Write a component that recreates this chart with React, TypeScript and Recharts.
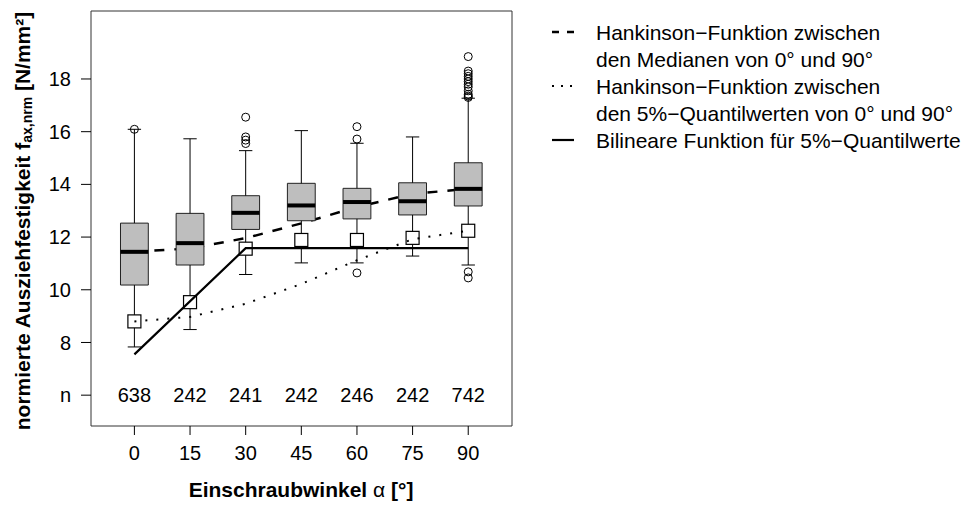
import React from 'react';
import { ComposedChart, XAxis, YAxis, Line, Scatter, ReferenceArea, ReferenceLine } from 'recharts';

// ---- data ----
const angles = [0, 15, 30, 45, 60, 75, 90];
const counts = [638, 242, 241, 242, 246, 242, 742];
const q1 = [10.18, 10.94, 12.29, 12.62, 12.69, 12.84, 13.18];
const medians = [11.44, 11.77, 12.92, 13.2, 13.33, 13.36, 13.83];
const q3 = [12.53, 12.9, 13.57, 14.04, 13.85, 14.06, 14.82];
const whiskerLow = [7.83, 8.49, 10.58, 11.02, 11.02, 11.28, 10.94];
const whiskerHigh = [16.09, 15.73, 15.28, 16.04, 15.56, 15.8, 17.27];
const quantile5 = [8.8, 9.53, 11.56, 11.89, 11.89, 11.97, 12.24];

const outlierAngles = [0, 30, 30, 30, 30, 60, 60, 60, 90, 90, 90, 90, 90, 90, 90, 90, 90, 90, 90, 90, 90, 90];
const outlierValues = [16.09, 16.55, 15.8, 15.68, 15.55, 16.19, 15.72, 10.64, 18.85, 18.3, 18.2, 18.1, 18.0, 17.9, 17.8, 17.7, 17.55, 17.42, 17.35, 17.3, 10.68, 10.45];

const hankMedianValues = [11.44, 11.57, 11.96, 12.52, 13.14, 13.64, 13.83];
const hank5Values = [8.8, 8.97, 9.47, 10.22, 11.12, 11.92, 12.24];
const bilinAngles = [0, 30, 90];
const bilinValues = [7.55, 11.58, 11.58];

const xTicks = [0, 15, 30, 45, 60, 75, 90];
const yTicks = [6, 8, 10, 12, 14, 16, 18];
const nRowValue = 6;

const legendLabels = [
  ['Hankinson\u2212Funktion zwischen', 'den Medianen von 0\u00b0 und 90\u00b0'],
  ['Hankinson\u2212Funktion zwischen', 'den 5%\u2212Quantilwerten von 0\u00b0 und 90\u00b0'],
  ['Bilineare Funktion f\u00fcr 5%\u2212Quantilwerte'],
];

// ---- derived tables ----
const hankMedianData = angles.map((a, i) => ({ x: a, y: hankMedianValues[i] }));
const hank5Data = angles.map((a, i) => ({ x: a, y: hank5Values[i] }));
const bilinData = bilinAngles.map((a, i) => ({ x: a, y: bilinValues[i] }));
const outlierData = outlierAngles.map((a, i) => ({ x: a, y: outlierValues[i] }));
const quantileData = angles.map((a, i) => ({ x: a, y: quantile5[i] }));
const nData = angles.map((a, i) => ({ x: a, y: nRowValue, n: counts[i] }));

const FONT = '"Liberation Sans", Arial, Helvetica, sans-serif';
const BOX_HALF = 3.75;
const CAP_HALF = 1.8;
const X_DOMAIN: [number, number] = [-11.7, 101.8];
const Y_DOMAIN: [number, number] = [4.83, 20.58];

const Circle = (p: any) => (
  <circle cx={p.cx} cy={p.cy} r={4} fill="none" stroke="#000" strokeWidth={1} />
);
const Square = (p: any) => (
  <rect x={p.cx - 6.5} y={p.cy - 6.5} width={13} height={13} fill="#fff" stroke="#000" strokeWidth={1.2} />
);
const NText = (p: any) => (
  <text x={p.cx} y={p.cy} textAnchor="middle" dominantBaseline="central" fontSize={20} fontFamily={FONT} fill="#000">
    {p.payload.n}
  </text>
);

const legendRowsY = [32, 59, 86, 113, 140];

export default function App() {
  const flat = legendLabels.flat();
  return (
    <div style={{ position: 'absolute', left: 0, top: 0, width: 968, height: 507, background: '#fff' }}>
      <ComposedChart width={968} height={507} margin={{ top: 11, right: 456, bottom: 0, left: 0 }}>
        <XAxis
          type="number"
          dataKey="x"
          domain={X_DOMAIN}
          allowDataOverflow
          ticks={xTicks}
          interval={0}
          height={81}
          axisLine={false}
          tickLine={{ stroke: '#000', strokeWidth: 1 }}
          tickSize={9}
          tickMargin={11}
          tick={{ fill: '#000', fontSize: 20, fontFamily: FONT }}
        />
        <YAxis
          type="number"
          dataKey="y"
          domain={Y_DOMAIN}
          allowDataOverflow
          ticks={yTicks}
          interval={0}
          width={91}
          axisLine={false}
          tickLine={{ stroke: '#000', strokeWidth: 1 }}
          tickSize={10}
          tickMargin={10}
          tickFormatter={(v: number) => (v === nRowValue ? 'n' : String(v))}
          tick={{ fill: '#000', fontSize: 20, fontFamily: FONT }}
        />
        <Line
          data={hankMedianData}
          dataKey="y"
          type="linear"
          stroke="#000"
          strokeWidth={2.5}
          strokeDasharray="10 10"
          dot={false}
          activeDot={false}
          isAnimationActive={false}
          zIndex={50}
        />
        {angles.map((a, i) => (
          <ReferenceArea
            key={'box' + i}
            x1={a - BOX_HALF}
            x2={a + BOX_HALF}
            y1={q1[i]}
            y2={q3[i]}
            fill="#bebebe"
            fillOpacity={1}
            stroke="#222"
            strokeWidth={1}
            ifOverflow="visible"
            zIndex={100}
          />
        ))}
        {angles.map((a, i) => (
          <ReferenceLine key={'wu' + i} segment={[{ x: a, y: q3[i] }, { x: a, y: whiskerHigh[i] }]} stroke="#000" strokeWidth={1} ifOverflow="visible" zIndex={150} />
        ))}
        {angles.map((a, i) => (
          <ReferenceLine key={'wl' + i} segment={[{ x: a, y: q1[i] }, { x: a, y: whiskerLow[i] }]} stroke="#000" strokeWidth={1} ifOverflow="visible" zIndex={150} />
        ))}
        {angles.map((a, i) => (
          <ReferenceLine key={'cu' + i} segment={[{ x: a - CAP_HALF, y: whiskerHigh[i] }, { x: a + CAP_HALF, y: whiskerHigh[i] }]} stroke="#000" strokeWidth={1} ifOverflow="visible" zIndex={150} />
        ))}
        {angles.map((a, i) => (
          <ReferenceLine key={'cl' + i} segment={[{ x: a - CAP_HALF, y: whiskerLow[i] }, { x: a + CAP_HALF, y: whiskerLow[i] }]} stroke="#000" strokeWidth={1} ifOverflow="visible" zIndex={150} />
        ))}
        {angles.map((a, i) => (
          <ReferenceLine key={'md' + i} segment={[{ x: a - BOX_HALF, y: medians[i] }, { x: a + BOX_HALF, y: medians[i] }]} stroke="#000" strokeWidth={4} ifOverflow="visible" zIndex={160} />
        ))}
        <ReferenceArea
          x1={X_DOMAIN[0]}
          x2={X_DOMAIN[1]}
          y1={Y_DOMAIN[0]}
          y2={Y_DOMAIN[1]}
          fill="none"
          stroke="#333"
          strokeWidth={1}
          ifOverflow="visible"
          zIndex={170}
        />
        <Scatter data={outlierData} shape={Circle} isAnimationActive={false} zIndex={200} />
        <Scatter data={quantileData} shape={Square} isAnimationActive={false} zIndex={250} />
        <Scatter data={nData} shape={NText} isAnimationActive={false} zIndex={260} />
        <Line
          data={hank5Data}
          dataKey="y"
          type="linear"
          stroke="#000"
          strokeWidth={2}
          strokeDasharray="2 9"
          dot={false}
          activeDot={false}
          isAnimationActive={false}
          zIndex={300}
        />
        <Line
          data={bilinData}
          dataKey="y"
          type="linear"
          stroke="#000"
          strokeWidth={2.2}
          dot={false}
          activeDot={false}
          isAnimationActive={false}
          zIndex={350}
        />
      </ComposedChart>
      <svg width={968} height={507} style={{ position: 'absolute', left: 0, top: 0, pointerEvents: 'none' }}>
        <text
          transform="translate(22,221) rotate(-90)"
          textAnchor="middle"
          dominantBaseline="central"
          fontSize={21}
          fontWeight="bold"
          fontFamily={FONT}
          fill="#000"
        >
          normierte Ausziehfestigkeit f
          <tspan fontSize={14} dy={5}>ax,nrm</tspan>
          <tspan dy={-5}> [N/mm²]</tspan>
        </text>
        <text x={301} y={497} textAnchor="middle" fontSize={21} fontWeight="bold" fontFamily={FONT} fill="#000">
          Einschraubwinkel <tspan fontWeight="normal">α</tspan> [°]
        </text>
        {/* legend */}
        <line x1={552} x2={574} y1={legendRowsY[0]} y2={legendRowsY[0]} stroke="#000" strokeWidth={2.5} strokeDasharray="7 8" />
        <line x1={552} x2={574} y1={legendRowsY[2]} y2={legendRowsY[2]} stroke="#000" strokeWidth={2} strokeDasharray="2 7" />
        <line x1={552} x2={574} y1={legendRowsY[4]} y2={legendRowsY[4]} stroke="#000" strokeWidth={2.2} />
        {legendRowsY.map((y, i) => (
          <text key={i} x={596} y={y} dominantBaseline="central" fontSize={21} fontFamily={FONT} fill="#000">
            {flat[i]}
          </text>
        ))}
      </svg>
    </div>
  );
}
